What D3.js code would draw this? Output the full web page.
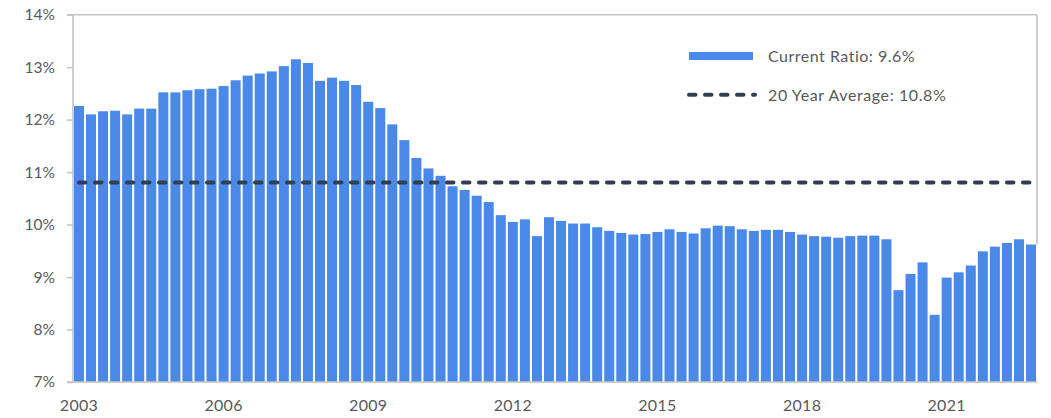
<!DOCTYPE html>
<html>
<head>
<meta charset="utf-8">
<script src="https://cdn.jsdelivr.net/npm/d3@7"></script>
<style>
  html, body { margin: 0; padding: 0; background: #fff; }
  svg { display: block; }
  text { font-family: "Lato", "Open Sans", sans-serif; fill: #595959; }
</style>
</head>
<body>
<svg id="chart" width="1051" height="418"></svg>
<script>
// ---- data ----
const years = [2003, 2004, 2005, 2006, 2007, 2008, 2009, 2010, 2011, 2012,
               2013, 2014, 2015, 2016, 2017, 2018, 2019, 2020, 2021, 2022];
const quarters = ["Q1", "Q2", "Q3", "Q4"];
const currentRatio = [
  12.26, 12.10, 12.16, 12.17, 12.10, 12.21, 12.21, 12.52, 12.52, 12.56, 12.58, 12.59,
  12.64, 12.75, 12.84, 12.88, 12.92, 13.02, 13.15, 13.08, 12.74, 12.80, 12.74, 12.66,
  12.34, 12.22, 11.91, 11.61, 11.27, 11.07, 10.93, 10.73, 10.66, 10.55, 10.43, 10.18,
  10.05, 10.10, 9.78, 10.14, 10.07, 10.02, 10.02, 9.95, 9.88, 9.84, 9.81, 9.82,
  9.86, 9.91, 9.86, 9.83, 9.93, 9.98, 9.97, 9.91, 9.88, 9.90, 9.90, 9.86,
  9.81, 9.78, 9.77, 9.75, 9.78, 9.79, 9.79, 9.72, 8.75, 9.06, 9.28, 8.28,
  8.99, 9.09, 9.22, 9.49, 9.58, 9.65, 9.72, 9.62
];
const twentyYearAverage = 10.8;
const xTickLabels = ["2003", "2006", "2009", "2012", "2015", "2018", "2021"];
const yTicks = [7, 8, 9, 10, 11, 12, 13, 14];
const legendLabels = ["Current Ratio: 9.6%", "20 Year Average: 10.8%"];

const categories = years.flatMap(y => quarters.map(q => y + " " + q));

// ---- layout ----
const svg = d3.select("#chart");
const mLeft = 73, mRight = 1037, mTop = 14.7, mBottom = 382;
const barColor = "#4a89e8";
const avgColor = "#333f50";
const axisColor = "#c4c4c4";

const x = d3.scaleBand().domain(categories).range([mLeft, mRight])
  .paddingInner(0.17).paddingOuter(0.08);
const y = d3.scaleLinear().domain([7, 14]).range([mBottom, mTop]);

// top border and right border
svg.append("line").attr("x1", mLeft - 6).attr("x2", mRight).attr("y1", y(14)).attr("y2", y(14))
  .attr("stroke", axisColor).attr("stroke-width", 1.6);
svg.append("line").attr("x1", mRight).attr("x2", mRight).attr("y1", y(14))
  .attr("y2", y(currentRatio[currentRatio.length - 1]))
  .attr("stroke", axisColor).attr("stroke-width", 1.6);

// bars
svg.append("g").selectAll("rect").data(currentRatio).join("rect")
  .attr("x", (d, i) => x(categories[i]))
  .attr("width", x.bandwidth())
  .attr("y", d => y(d))
  .attr("height", d => y(7) - y(d))
  .attr("fill", barColor);

// y axis
const yAxis = svg.append("g").attr("transform", `translate(${mLeft},0)`)
  .call(d3.axisLeft(y).tickValues(yTicks).tickSize(6).tickPadding(12)
    .tickFormat(d => d + "%"));
yAxis.select(".domain").attr("stroke", axisColor).attr("stroke-width", 1.6)
  .attr("d", `M0,${y(14)}V${y(7)}`);
yAxis.selectAll(".tick line").attr("stroke", axisColor).attr("stroke-width", 1.6);
yAxis.selectAll(".tick text").attr("font-size", 15.5).attr("fill", "#595959")
  .attr("font-family", "Lato, sans-serif");

// x axis
const labelCats = xTickLabels.map(l => l + " Q1");
const xAxis = svg.append("g").attr("transform", `translate(0,${mBottom})`)
  .call(d3.axisBottom(x).tickValues(labelCats).tickSize(0).tickPadding(18)
    .tickFormat(d => d.slice(0, 4)));
xAxis.select(".domain").attr("stroke", axisColor).attr("stroke-width", 1.6)
  .attr("d", `M${mLeft - 6},0H${mRight}`);
xAxis.selectAll(".tick text").attr("font-size", 16).attr("fill", "#595959")
  .attr("font-family", "Lato, sans-serif").attr("letter-spacing", 0.3);

// average line
const firstC = x(categories[0]) + x.bandwidth() / 2;
const lastC = x(categories[categories.length - 1]) + x.bandwidth() / 2;
svg.append("line")
  .attr("x1", firstC).attr("x2", lastC)
  .attr("y1", y(twentyYearAverage)).attr("y2", y(twentyYearAverage))
  .attr("stroke", avgColor).attr("stroke-width", 4)
  .attr("stroke-linecap", "round").attr("stroke-dasharray", "6.5 9.5");

// legend
const lg = svg.append("g");
lg.append("rect").attr("x", 689).attr("y", 52).attr("width", 64).attr("height", 8)
  .attr("fill", barColor);
lg.append("text").attr("x", 768).attr("y", 61.5).attr("font-size", 16)
  .attr("letter-spacing", 0.5).text(legendLabels[0]);
lg.append("line").attr("x1", 689).attr("x2", 755).attr("y1", 94.7).attr("y2", 94.7)
  .attr("stroke", avgColor).attr("stroke-width", 4)
  .attr("stroke-linecap", "round").attr("stroke-dasharray", "6.5 9.5");
lg.append("text").attr("x", 768).attr("y", 100.5).attr("font-size", 16)
  .attr("letter-spacing", 0.6).text(legendLabels[1]);
</script>
</body>
</html>
